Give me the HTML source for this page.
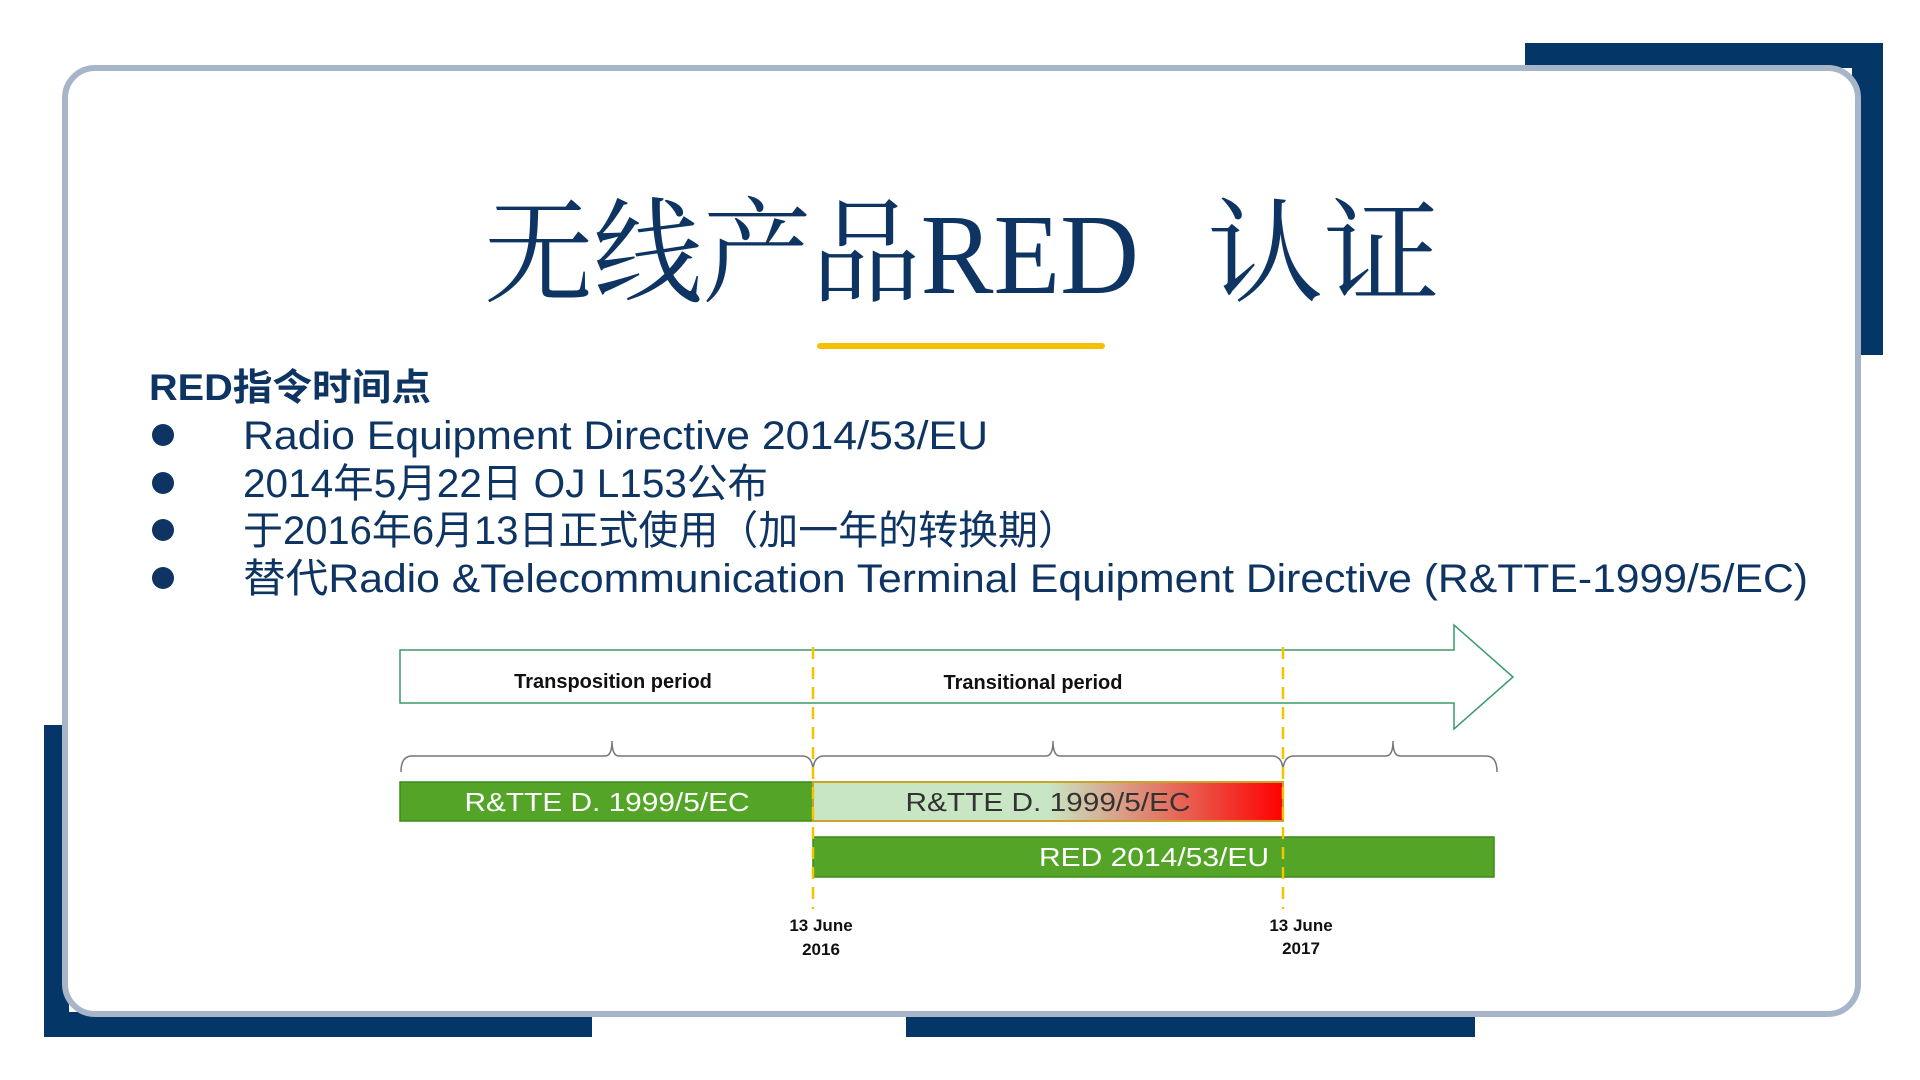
<!DOCTYPE html>
<html><head><meta charset="utf-8"><style>
html,body{margin:0;padding:0;background:#fff;width:1920px;height:1080px;overflow:hidden}
</style></head><body>
<svg width="1920" height="1080" viewBox="0 0 1920 1080" xmlns="http://www.w3.org/2000/svg">
<defs>
<linearGradient id="g" x1="0" x2="1" y1="0" y2="0">
<stop offset="0" stop-color="#c8e6c4"/><stop offset="0.5" stop-color="#c8e6c4"/><stop offset="1" stop-color="#ff0000"/>
</linearGradient>
</defs>
<rect width="1920" height="1080" fill="#fff"/>
<rect x="1525" y="43" width="358" height="25" fill="#043768"/>
<rect x="1852" y="43" width="31" height="312" fill="#043768"/>
<rect x="44" y="725" width="25" height="312" fill="#043768"/>
<rect x="44" y="1012" width="548" height="25" fill="#043768"/>
<rect x="906" y="1012" width="569" height="25" fill="#043768"/>
<rect x="65" y="68" width="1793" height="946" rx="30" fill="#fff" stroke="#a6b6c8" stroke-width="6"/>
<g font-family="'Liberation Serif','Noto Serif CJK SC',serif" font-size="114" fill="#0d3462">
<text x="484" y="293" textLength="655" lengthAdjust="spacingAndGlyphs">无线产品RED</text>
<text x="1207" y="293" textLength="233" lengthAdjust="spacingAndGlyphs">认证</text>
</g>
<rect x="817" y="343" width="288" height="6" rx="3" fill="#f5c000"/>
<text x="149" y="400" font-family="'Liberation Sans','Noto Sans CJK SC',sans-serif" font-weight="bold" font-size="37" fill="#0d3462" textLength="282" lengthAdjust="spacingAndGlyphs">RED指令时间点</text>
<g fill="#0d3462" font-family="'Liberation Sans','Noto Sans CJK SC',sans-serif" font-size="40">
<circle cx="163" cy="435" r="11"/><circle cx="163" cy="483" r="11"/><circle cx="163" cy="530" r="11"/><circle cx="163" cy="578" r="11"/>
<text x="243" y="449" textLength="745" lengthAdjust="spacingAndGlyphs">Radio Equipment Directive 2014/53/EU</text>
<text x="243" y="497" textLength="525" lengthAdjust="spacingAndGlyphs">2014年5月22日 OJ L153公布</text>
<text x="243" y="544" textLength="835" lengthAdjust="spacingAndGlyphs">于2016年6月13日正式使用（加一年的转换期）</text>
<text x="243" y="592" textLength="1565" lengthAdjust="spacingAndGlyphs">替代Radio &amp;Telecommunication Terminal Equipment Directive (R&amp;TTE-1999/5/EC)</text>
</g>
<path d="M400 650 L1454 650 L1454 625 L1513 677 L1454 729 L1454 703 L400 703 Z" fill="#fff" stroke="#3a9a6a" stroke-width="1.5"/>
<g font-family="'Liberation Sans',sans-serif" font-weight="bold" font-size="20" fill="#111" text-anchor="middle">
<text x="613" y="688">Transposition period</text>
<text x="1033" y="689">Transitional  period</text>
</g>
<g fill="none" stroke="#777" stroke-width="1.5">
<path d="M401 772 Q401 756 412 756 L605 756 Q612 756 612 741 Q612 756 619 756 L802 756 Q813 756 813 772"/>
<path d="M813 772 Q813 756 824 756 L1046 756 Q1053 756 1053 741 Q1053 756 1060 756 L1272 756 Q1283 756 1283 772"/>
<path d="M1283 772 Q1283 756 1294 756 L1386 756 Q1393 756 1393 741 Q1393 756 1400 756 L1486 756 Q1497 756 1497 772"/>
</g>
<rect x="400" y="782" width="413" height="39" fill="#54a527" stroke="#3d8a1c" stroke-width="1.5"/>
<rect x="813" y="782" width="470" height="39" fill="url(#g)" stroke="#c9a42a" stroke-width="2"/>
<rect x="813" y="837" width="681" height="40" fill="#54a527" stroke="#3d8a1c" stroke-width="1.5"/>
<g font-family="'Liberation Sans',sans-serif" font-size="26" text-anchor="middle">
<text x="607" y="811" fill="#fff" textLength="285" lengthAdjust="spacingAndGlyphs">R&amp;TTE D. 1999/5/EC</text>
<text x="1048" y="811" fill="#333" textLength="285" lengthAdjust="spacingAndGlyphs">R&amp;TTE D. 1999/5/EC</text>
<text x="1154" y="866" fill="#fff" textLength="230" lengthAdjust="spacingAndGlyphs">RED 2014/53/EU</text>
</g>
<g stroke="#f5c400" stroke-width="2.5" stroke-dasharray="12 8">
<line x1="813" y1="647" x2="813" y2="909"/>
<line x1="1283" y1="647" x2="1283" y2="909"/>
</g>
<g font-family="'Liberation Sans',sans-serif" font-weight="bold" font-size="17" fill="#111" text-anchor="middle">
<text x="821" y="931">13 June</text><text x="821" y="955">2016</text>
<text x="1301" y="931">13 June</text><text x="1301" y="954">2017</text>
</g>
</svg>
</body></html>
